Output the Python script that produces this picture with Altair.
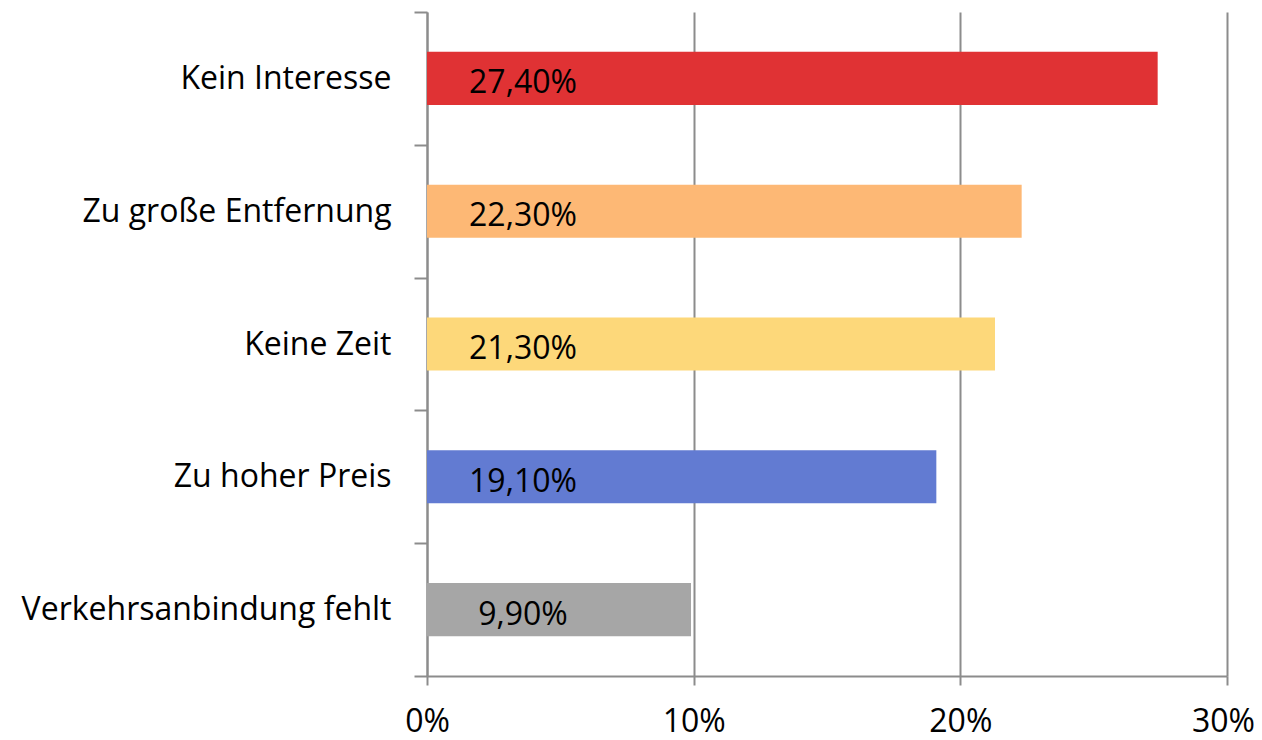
import altair as alt
import pandas as pd

categories = ["Kein Interesse", "Zu große Entfernung", "Keine Zeit", "Zu hoher Preis", "Verkehrsanbindung fehlt"]
values = [0.274, 0.223, 0.213, 0.191, 0.099]
colors = ["#E03234", "#FDB875", "#FDD87A", "#627BD2", "#A6A6A6"]
x_ticks = [0, 0.1, 0.2, 0.3]

df = pd.DataFrame({"cat": categories, "val": values})

FONT = "Open Sans"
FS = 32
GRAY = "#8C8C8C"

y_enc = alt.Y(
    "cat:N",
    sort=categories,
    scale=alt.Scale(paddingInner=0, paddingOuter=0),
    axis=alt.Axis(
        title=None, tickBand="extent", tickSize=13, tickWidth=2, tickColor=GRAY,
        domainColor=GRAY, domainWidth=2, labelPadding=23, labelFont=FONT,
        labelFontSize=FS, labelColor="#000000", grid=False, labelLimit=500,
    ),
)

x_enc = alt.X(
    "val:Q",
    scale=alt.Scale(domain=[0, 0.3], nice=False),
    axis=alt.Axis(
        title=None, values=x_ticks, format=".0%", tickSize=9, tickWidth=2, tickColor=GRAY,
        domainColor=GRAY, domainWidth=2, grid=True, gridColor=GRAY, gridWidth=2,
        labelFont=FONT, labelFontSize=FS, labelColor="#000000", labelPadding=21,
        labelFlush=False,
        labelOffset={"condition": {"test": "datum.value >= 0.3", "value": -4}, "value": 0},
    ),
)

bars = alt.Chart(df).mark_bar(height=alt.RelativeBandSize(0.4)).encode(
    x=x_enc,
    y=y_enc,
    color=alt.Color("cat:N", scale=alt.Scale(domain=categories, range=colors), legend=None),
)

labels = alt.Chart(df).transform_calculate(
    lab="replace(format(datum.val, '.2%'), '.', ',')"
).mark_text(font=FONT, fontSize=FS, color="#000000", align="center", baseline="middle", dx=96, dy=5).encode(
    x=alt.datum(0),
    y=alt.Y("cat:N", sort=categories),
    text="lab:N",
)

chart = alt.layer(bars, labels).properties(
    width=800, height=664,
    autosize=alt.AutoSizeParams(type="none"),
    padding={"left": 419, "top": 4, "right": 27, "bottom": 64},
).configure_view(stroke=None)

chart.save("out.html", embed_options={"renderer": "svg", "actions": False})
